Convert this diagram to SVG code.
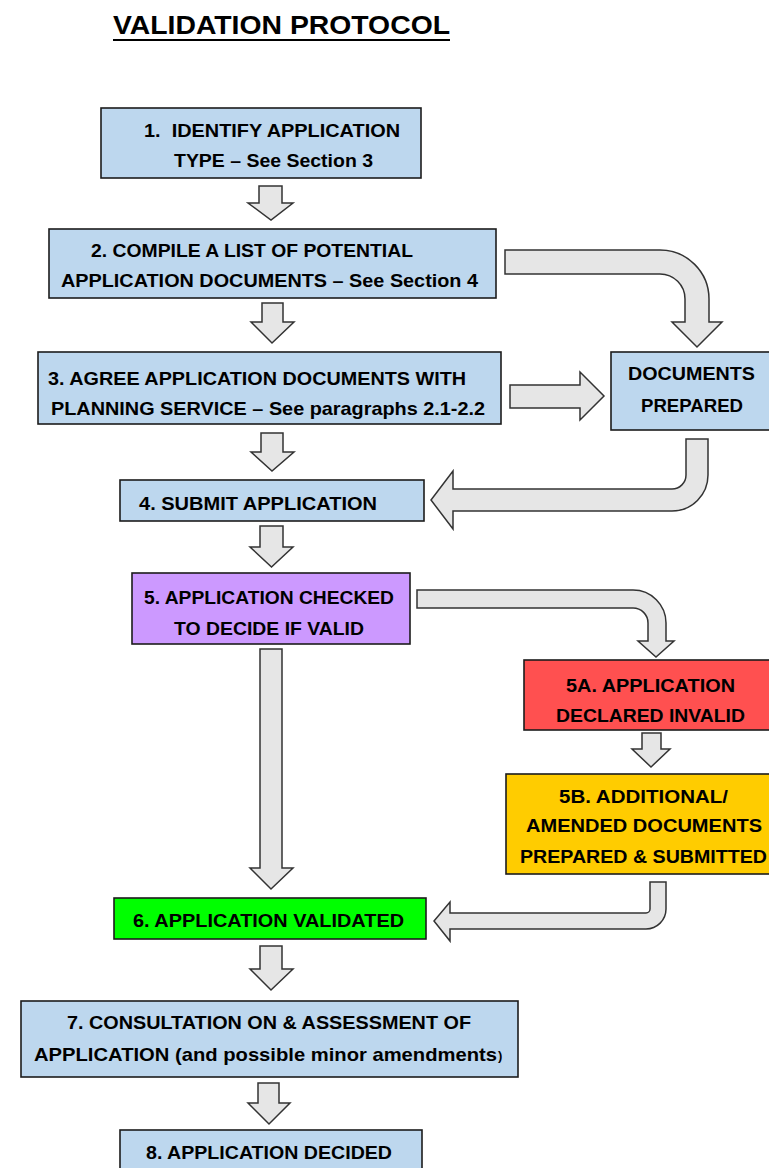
<svg xmlns="http://www.w3.org/2000/svg" width="769" height="1168" viewBox="0 0 769 1168">
<style>
.node{stroke:#1c1c1c;stroke-width:1.6}
.blue{fill:#BDD7EE}
.purple{fill:#CC99FF}
.red{fill:#FF5050}
.yellow{fill:#FFCC00}
.green{fill:#00FF00}
.arrow{fill:#E6E6E6;stroke:#333;stroke-width:1.5;stroke-linejoin:miter}
text{font-family:"Liberation Sans",Arial,sans-serif;font-weight:bold;fill:#000;font-size:19px;white-space:pre}
.title{font-size:25px}
</style>
<rect width="769" height="1168" fill="#fff"/>
<g id="title">
<text class="title" x="113" y="34" textLength="337" lengthAdjust="spacingAndGlyphs">VALIDATION PROTOCOL</text>
<line x1="113" y1="40" x2="450" y2="40" stroke="#000" stroke-width="2"/>
</g>
<g id="connectors">
<path class="arrow" d="M259,186 H282 V203 H293 L271,220 L248,203 H259 Z"/>
<path class="arrow" d="M262,303 H283 V322 H294 L272,343 L251,322 H262 Z"/>
<path class="arrow" d="M261,433 H283 V452 H294 L272,471 L251,452 H261 Z"/>
<path class="arrow" d="M260,526 H283 V547 H293 L271.5,567 L250,547 H260 Z"/>
<path class="arrow" d="M260,649 H282 V868 H293 L271,889 L250,868 H260 Z"/>
<path class="arrow" d="M260,946 H282 V969 H293 L271,990 L250,969 H260 Z"/>
<path class="arrow" d="M258,1083 H279 V1103 H290 L269,1124 L248,1103 H258 Z"/>
<path class="arrow" d="M642,733 H661 V749 H670 L651,767 L632,749 H642 Z"/>
<path class="arrow" d="M510,385 H580 V372 L604,396 L580,420 V408 H510 Z"/>
<path class="arrow" d="M505,250 H660 A49,49 0 0 1 709,299 V322 H722 L697,347 L672,322 H685 V299 A25,25 0 0 0 660,274 H505 Z"/>
<path class="arrow" d="M686,439 H708 V475 A36,36 0 0 1 672,511 H453 V529 L431,500 L453,471 V489 H672 A14,14 0 0 0 686,475 Z"/>
<path class="arrow" d="M417,590 H633 A33,33 0 0 1 666,623 V641 H674 L656,657 L638,641 H648 V623 A15,15 0 0 0 633,608 H417 Z"/>
<path class="arrow" d="M650,882 H666 V909 A20,20 0 0 1 646,929 H450 V941 L434,921 L450,902 V913 H646 A4,4 0 0 0 650,909 Z"/>
</g>
<g id="node1">
<rect class="node blue" x="101" y="108" width="320" height="70"/>
<text x="144" y="137" textLength="256" lengthAdjust="spacingAndGlyphs">1.  IDENTIFY APPLICATION</text>
<text x="174" y="167" textLength="199" lengthAdjust="spacingAndGlyphs">TYPE – See Section 3</text>
</g>
<g id="node2">
<rect class="node blue" x="49" y="229" width="447" height="69"/>
<text x="91" y="257" textLength="322" lengthAdjust="spacingAndGlyphs">2. COMPILE A LIST OF POTENTIAL</text>
<text x="61" y="287" textLength="417" lengthAdjust="spacingAndGlyphs">APPLICATION DOCUMENTS – See Section 4</text>
</g>
<g id="node3">
<rect class="node blue" x="38" y="352" width="463" height="72"/>
<text x="48" y="385" textLength="418" lengthAdjust="spacingAndGlyphs">3. AGREE APPLICATION DOCUMENTS WITH</text>
<text x="51" y="415" textLength="434" lengthAdjust="spacingAndGlyphs">PLANNING SERVICE – See paragraphs 2.1-2.2</text>
</g>
<g id="docs">
<rect class="node blue" x="611" y="352" width="164" height="78"/>
<text x="628" y="380" textLength="127" lengthAdjust="spacingAndGlyphs">DOCUMENTS</text>
<text x="641" y="412" textLength="102" lengthAdjust="spacingAndGlyphs">PREPARED</text>
</g>
<g id="node4">
<rect class="node blue" x="120" y="480" width="304" height="41"/>
<text x="139" y="510" textLength="238" lengthAdjust="spacingAndGlyphs">4. SUBMIT APPLICATION</text>
</g>
<g id="node5">
<rect class="node purple" x="132" y="573" width="278" height="71"/>
<text x="144" y="604" textLength="250" lengthAdjust="spacingAndGlyphs">5. APPLICATION CHECKED</text>
<text x="174" y="635" textLength="190" lengthAdjust="spacingAndGlyphs">TO DECIDE IF VALID</text>
</g>
<g id="node5a">
<rect class="node red" x="524" y="660" width="256" height="70"/>
<text x="566" y="692" textLength="169" lengthAdjust="spacingAndGlyphs">5A. APPLICATION</text>
<text x="556" y="722" textLength="189" lengthAdjust="spacingAndGlyphs">DECLARED INVALID</text>
</g>
<g id="node5b">
<rect class="node yellow" x="506" y="774" width="274" height="100"/>
<text x="559" y="803" textLength="169" lengthAdjust="spacingAndGlyphs">5B. ADDITIONAL/</text>
<text x="526" y="832" textLength="236" lengthAdjust="spacingAndGlyphs">AMENDED DOCUMENTS</text>
<text x="520" y="863" textLength="247" lengthAdjust="spacingAndGlyphs">PREPARED &amp; SUBMITTED</text>
</g>
<g id="node6">
<rect class="node green" x="114" y="898" width="312" height="41"/>
<text x="133" y="927" textLength="271" lengthAdjust="spacingAndGlyphs">6. APPLICATION VALIDATED</text>
</g>
<g id="node7">
<rect class="node blue" x="21" y="1001" width="497" height="76"/>
<text x="67" y="1029" textLength="404" lengthAdjust="spacingAndGlyphs">7. CONSULTATION ON &amp; ASSESSMENT OF</text>
<text x="34" y="1061" textLength="463" lengthAdjust="spacingAndGlyphs">APPLICATION (and possible minor amendments</text>
<text x="498" y="1060" style="font-size:13px">)</text>
</g>
<g id="node8">
<rect class="node blue" x="120" y="1130" width="302" height="50"/>
<text x="146" y="1159" textLength="246" lengthAdjust="spacingAndGlyphs">8. APPLICATION DECIDED</text>
</g>
</svg>
